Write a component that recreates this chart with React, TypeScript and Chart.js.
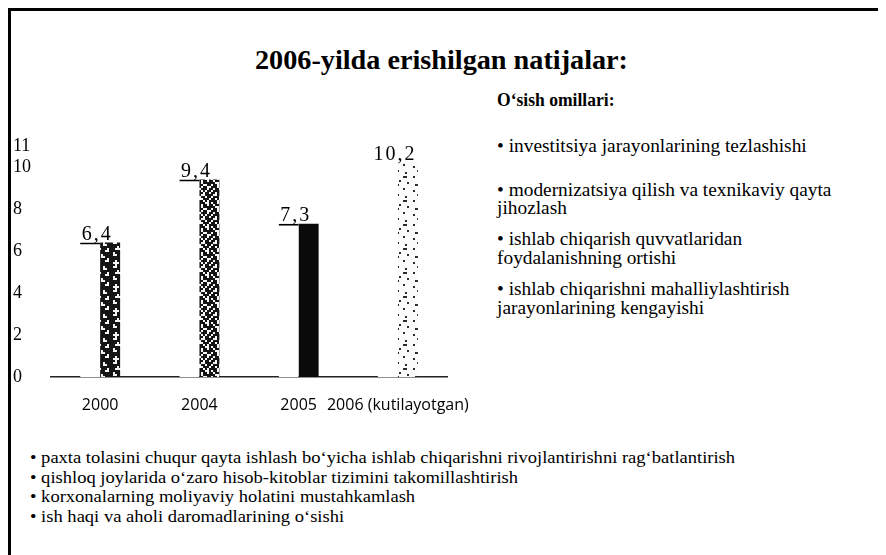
import React, { useEffect, useLayoutEffect, useRef, useState } from 'react';
import { Chart, registerables } from 'chart.js';

Chart.register(...registerables);

// ---- data ----
const categories = ['2000', '2004', '2005', '2006 (kutilayotgan)'];
const values = [6.4, 9.4, 7.3, 10.2];
const valueLabels = ['6,4', '9,4', '7,3', '10,2'];
const yTicks = [0, 2, 4, 6, 8, 10, 11];

const titleText = '2006-yilda erishilgan natijalar:';
const factorsTitle = 'O‘sish omillari:';
const factorLines = [
  '• investitsiya jarayonlarining tezlashishi',
  '• modernizatsiya qilish va texnikaviy qayta',
  'jihozlash',
  '• ishlab chiqarish quvvatlaridan',
  'foydalanishning ortishi',
  '• ishlab chiqarishni mahalliylashtirish',
  'jarayonlarining kengayishi',
];
const bottomLines = [
  '• paxta tolasini chuqur qayta ishlash bo‘yicha ishlab chiqarishni rivojlantirishni rag‘batlantirish',
  '• qishloq joylarida o‘zaro hisob-kitoblar tizimini takomillashtirish',
  '• korxonalarning moliyaviy holatini mustahkamlash',
  '• ish haqi va aholi daromadlarining o‘sishi',
];

// ---- layout (page coordinates) ----
const factorY = [148, 192, 210, 241, 260, 291, 310];
const bottomY = [459, 479, 498, 518];

// ---- textures (fixed bitmaps) ----
const BITMAP_DARK = [
  '..#.......',
  '.##...#...',
  '......##..',
  '...#......',
  '..###...#.',
  '.......##.',
  '.#........',
  '.##..#....',
  '.....##...',
  '........#.',
  '..#....##.',
  '.###......',
];
const BITMAP_MID = [
  '##.###.##.',
  '#..##..###',
  '.###.##.##',
  '##.#..###.',
  '###.##.#.#',
  '.##.###..#',
  '#.###.##.#',
  '##..#.####',
  '.##.##..##',
  '###.#.##..',
  '#.##.###.#',
  '.####.#.##',
];
const BITMAP_LIGHT = [
  '..........',
  '...#......',
  '.......#..',
  '..........',
  '.#....##..',
  '..........',
  '....#.....',
  '........#.',
  '..##......',
  '..........',
  '......#...',
  '.#........',
];

function makePattern(bitmap: string[], bg: string, fg: string): CanvasPattern | string {
  const cell = 2;
  const c = document.createElement('canvas');
  c.width = bitmap[0].length * cell;
  c.height = bitmap.length * cell;
  const g = c.getContext('2d');
  if (!g) return bg;
  g.fillStyle = bg;
  g.fillRect(0, 0, c.width, c.height);
  g.fillStyle = fg;
  bitmap.forEach((row, r) => {
    for (let i = 0; i < row.length; i++) {
      if (row[i] === '#') g.fillRect(i * cell, r * cell, cell, cell);
    }
  });
  return g.createPattern(c, 'repeat') || bg;
}

const valueLabelPlugin = {
  id: 'valueLabels',
  afterDatasetsDraw(chart: any) {
    const { ctx } = chart;
    const meta = chart.getDatasetMeta(1);
    const xScale = chart.scales.x;
    ctx.save();
    ctx.font = '20px "Liberation Serif"';
    (ctx as any).letterSpacing = '2px';
    ctx.fillStyle = '#000';
    ctx.textAlign = 'center';
    ctx.textBaseline = 'alphabetic';
    meta.data.forEach((el: any, i: number) => {
      const x = xScale.getPixelForValue(i) - 3;
      ctx.fillText(valueLabels[i], x, el.y - 3);
    });
    ctx.restore();
  },
};

type LineProps = {
  text: string;
  left: number;
  top: number;
  size: number;
  bold?: boolean;
  scale: number;
  spanRef?: React.RefObject<HTMLSpanElement | null>;
};

function Line({ text, left, top, size, bold, scale, spanRef }: LineProps) {
  return (
    <span
      ref={spanRef as any}
      style={{
        position: 'absolute',
        left: left - 8,
        top: top - 8,
        fontFamily: '"Liberation Serif", serif',
        fontSize: size,
        lineHeight: `${size}px`,
        fontWeight: bold ? 700 : 400,
        whiteSpace: 'nowrap',
        display: 'inline-block',
        transform: `scaleX(${scale})`,
        transformOrigin: 'left center',
        color: '#000',
      }}
    >
      {text}
    </span>
  );
}

export default function App() {
  const canvasRef = useRef<HTMLCanvasElement>(null);
  const titleRef = useRef<HTMLSpanElement>(null);
  const factorsTitleRef = useRef<HTMLSpanElement>(null);
  const rightRef = useRef<HTMLSpanElement>(null);
  const bottomRef = useRef<HTMLSpanElement>(null);
  const [scales, setScales] = useState({ title: 1, ft: 1, right: 1, bottom: 1 });

  useLayoutEffect(() => {
    const clamp = (v: number) => Math.max(0.6, Math.min(1.4, v));
    const w = (r: React.RefObject<HTMLSpanElement | null>, target: number) =>
      r.current && r.current.offsetWidth ? clamp(target / r.current.offsetWidth) : 1;
    setScales({
      title: w(titleRef, 373),
      ft: w(factorsTitleRef, 118),
      right: w(rightRef, 310),
      bottom: w(bottomRef, 705),
    });
  }, []);

  useEffect(() => {
    const canvas = canvasRef.current;
    if (!canvas) return;
    const patDark = makePattern(BITMAP_DARK, '#151515', '#f4f4f4');
    const patMid = makePattern(BITMAP_MID, '#f6f6f6', '#151515');
    const patLight = makePattern(BITMAP_LIGHT, '#fbfbfb', '#2a2a2a');
    const chart = new Chart(canvas, {
      type: 'bar',
      data: {
        labels: categories,
        datasets: [
          {
            label: 'front',
            data: values,
            backgroundColor: '#ffffff',
            borderColor: '#000000',
            borderWidth: (c: any) =>
              c.dataIndex === 3 ? 0 : { top: 2, left: 0, right: 0, bottom: 0 },
            barPercentage: 1,
            categoryPercentage: 0.403,
          },
          {
            label: 'side',
            data: values,
            backgroundColor: [patDark, patMid, '#0a0a0a', patLight] as any,
            borderWidth: 0,
            barPercentage: 1,
            categoryPercentage: 0.403,
          },
        ],
      },
      options: {
        responsive: false,
        animation: false,
        devicePixelRatio: 1,
        layout: { padding: { left: 2, right: 33.5, top: 26, bottom: 0 } },
        plugins: {
          legend: { display: false },
          tooltip: { enabled: false },
          title: { display: false },
        },
        scales: {
          x: {
            grid: { display: false, drawTicks: false },
            border: { display: true, color: '#222', width: 1.5 },
            ticks: {
              color: '#000',
              font: { family: 'Open Sans', size: 16 },
              padding: 19,
              maxRotation: 0,
              minRotation: 0,
              autoSkip: false,
            },
            afterFit: (s: any) => {
              s.height = 43;
              s.paddingLeft = 0;
              s.paddingRight = 0;
            },
          },
          y: {
            min: 0,
            max: 11,
            afterBuildTicks: (s: any) => {
              s.ticks = yTicks.map((v) => ({ value: v }));
            },
            grid: { display: false, drawTicks: false },
            border: { display: false },
            ticks: {
              color: '#000',
              crossAlign: 'far',
              padding: 0,
              autoSkip: false,
              font: { family: 'Liberation Serif', size: 18 },
            },
            afterFit: (s: any) => {
              s.width = 37.5;
            },
          },
        },
      } as any,
      plugins: [valueLabelPlugin],
    });
    return () => chart.destroy();
  }, []);

  return (
    <div
      style={{
        position: 'relative',
        width: 878,
        height: 547,
        background: '#fff',
        overflow: 'hidden',
      }}
    >
      <div style={{ position: 'absolute', left: 0, top: 0, width: 878, height: 3, background: '#000' }} />
      <div style={{ position: 'absolute', left: 0, top: 0, width: 3, height: 547, background: '#000' }} />

      <canvas
        ref={canvasRef}
        width={470}
        height={300}
        style={{ position: 'absolute', left: 3, top: 112, width: 470, height: 300 }}
      />

      <Line spanRef={titleRef} text={titleText} left={255} top={60 - 13.5} size={27} bold scale={scales.title} />
      <Line spanRef={factorsTitleRef} text={factorsTitle} left={497} top={100 - 9} size={18} bold scale={scales.ft} />
      {factorLines.map((t, i) => (
        <Line
          key={i}
          spanRef={i === 0 ? rightRef : undefined}
          text={t}
          left={497}
          top={factorY[i] - 0.61 * 18}
          size={18}
          scale={scales.right}
        />
      ))}
      {bottomLines.map((t, i) => (
        <Line
          key={i}
          spanRef={i === 0 ? bottomRef : undefined}
          text={t}
          left={30}
          top={bottomY[i] - 0.61 * 17}
          size={17}
          scale={scales.bottom}
        />
      ))}
    </div>
  );
}
